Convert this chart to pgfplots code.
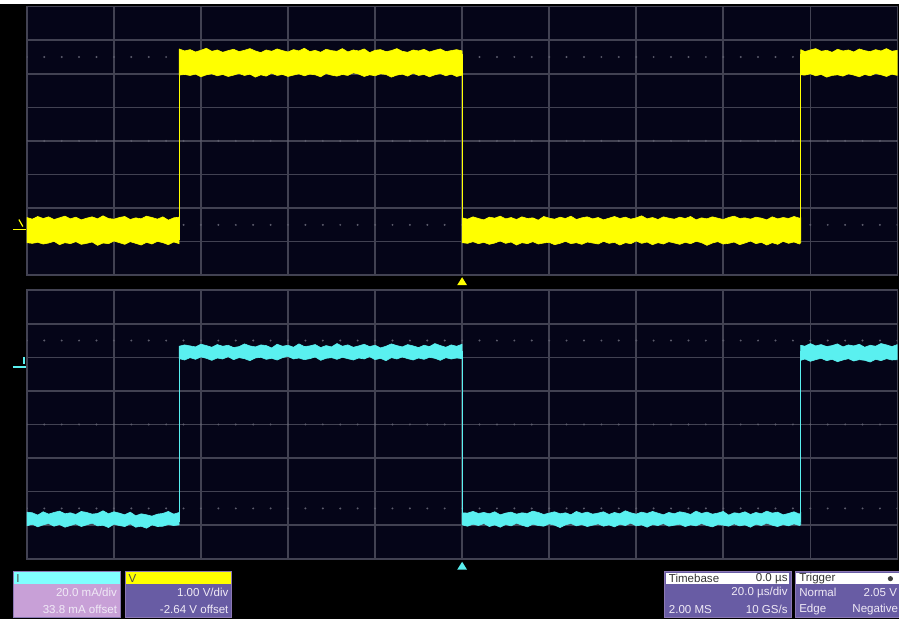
\documentclass[border=0pt]{standalone}
\usepackage{pgfplots}
\pgfplotsset{compat=1.18}
\usepackage{fontspec}
\setmainfont{Liberation Sans}
\definecolor{bgc}{RGB}{5,5,24}
\definecolor{gridc}{RGB}{66,66,82}
\definecolor{dotc}{RGB}{92,92,108}
\definecolor{trY}{RGB}{255,255,0}
\definecolor{trC}{RGB}{90,240,240}
\definecolor{hdrC}{RGB}{128,255,255}
\definecolor{bodyP}{RGB}{200,160,215}
\definecolor{bodyV}{RGB}{104,92,164}
\definecolor{boxB}{RGB}{140,120,180}
\definecolor{txtW}{RGB}{240,234,246}
\newcommand{\fs}{\fontsize{5.8}{6.5}\selectfont}
\pgfplotsset{osc/.style={scale only axis, width=437.5pt, height=135pt,
  xmin=-5, xmax=5, ymin=-4, ymax=4,
  xtick={-5,...,5}, ytick={-4,...,4}, xticklabels={}, yticklabels={},
  tick style={draw=none}, major tick length=0pt,
  grid=major, major grid style={gridc, line width=0.8pt},
  axis line style={gridc, line width=0.8pt},
  axis background/.style={fill=bgc}, anchor=north west}}
\newcommand{\dotrow}[1]{\draw[dotc, line width=1.1pt, line cap=round, dash pattern=on 0pt off 8.75pt] (axis cs:-5,#1) -- (axis cs:5,#1);}
\begin{document}
\begin{tikzpicture}
\fill[black] (0,0) rectangle (452pt,-310.5pt);
\fill[white] (0,0) rectangle (452pt,-1pt);
% ---------------- upper panel (V) ----------------
\begin{axis}[osc, at={(13.5pt,-2.5pt)}]
\dotrow{2.5}\dotrow{-2.5}\dotrow{0}
% low 1
\addplot[fill=trY, draw=trY, line width=0.3pt] coordinates {
(-5,-2.28)(-4.9375,-2.33)(-4.875,-2.25)(-4.8125,-2.31)(-4.75,-2.26)(-4.6875,-2.34)(-4.625,-2.29)(-4.5625,-2.24)(-4.5,-2.32)(-4.4375,-2.27)(-4.375,-2.35)(-4.3125,-2.30)(-4.25,-2.26)(-4.1875,-2.32)(-4.125,-2.23)(-4.0625,-2.31)(-4,-2.33)(-3.9375,-2.28)(-3.875,-2.25)(-3.8125,-2.34)(-3.75,-2.29)(-3.6875,-2.32)(-3.625,-2.24)(-3.5625,-2.28)(-3.5,-2.33)(-3.4375,-2.26)(-3.375,-2.36)(-3.3125,-2.29)(-3.25,-2.27)
(-3.25,-3.06)(-3.3125,-3.01)(-3.375,-3.09)(-3.4375,-3.03)(-3.5,-2.99)(-3.5625,-3.07)(-3.625,-3.02)(-3.6875,-3.10)(-3.75,-3.05)(-3.8125,-3.00)(-3.875,-3.08)(-3.9375,-3.03)(-4,-2.98)(-4.0625,-3.06)(-4.125,-3.04)(-4.1875,-3.11)(-4.25,-3.01)(-4.3125,-3.05)(-4.375,-3.08)(-4.4375,-3.00)(-4.5,-3.06)(-4.5625,-3.03)(-4.625,-3.09)(-4.6875,-2.99)(-4.75,-3.04)(-4.8125,-3.07)(-4.875,-3.02)(-4.9375,-3.05)(-5,-3.03)(-5,-2.28)};
% high 1
\addplot[fill=trY, draw=trY, line width=0.3pt] coordinates {
(-3.25,2.74)(-3.1875,2.68)(-3.125,2.72)(-3.0625,2.65)(-3,2.70)(-2.9375,2.76)(-2.875,2.67)(-2.8125,2.71)(-2.75,2.64)(-2.6875,2.69)(-2.625,2.73)(-2.5625,2.66)(-2.5,2.70)(-2.4375,2.75)(-2.375,2.68)(-2.3125,2.63)(-2.25,2.71)(-2.1875,2.67)(-2.125,2.74)(-2.0625,2.69)(-2,2.65)(-1.9375,2.72)(-1.875,2.68)(-1.8125,2.76)(-1.75,2.66)(-1.6875,2.70)(-1.625,2.64)(-1.5625,2.73)(-1.5,2.69)(-1.4375,2.67)(-1.375,2.75)(-1.3125,2.65)(-1.25,2.71)(-1.1875,2.68)(-1.125,2.74)(-1.0625,2.63)(-1,2.70)(-0.9375,2.72)(-0.875,2.66)(-0.8125,2.69)(-0.75,2.75)(-0.6875,2.67)(-0.625,2.64)(-0.5625,2.71)(-0.5,2.68)(-0.4375,2.73)(-0.375,2.65)(-0.3125,2.70)(-0.25,2.74)(-0.1875,2.66)(-0.125,2.69)(-0.0625,2.72)(0,2.68)
(0,1.96)(-0.0625,1.92)(-0.125,1.99)(-0.1875,1.94)(-0.25,2.01)(-0.3125,1.97)(-0.375,1.91)(-0.4375,1.98)(-0.5,1.95)(-0.5625,2.02)(-0.625,1.93)(-0.6875,1.99)(-0.75,1.96)(-0.8125,1.90)(-0.875,1.98)(-0.9375,2.00)(-1,1.94)(-1.0625,1.97)(-1.125,1.92)(-1.1875,1.99)(-1.25,2.03)(-1.3125,1.95)(-1.375,1.98)(-1.4375,1.93)(-1.5,1.96)(-1.5625,2.01)(-1.625,1.91)(-1.6875,1.97)(-1.75,1.99)(-1.8125,1.94)(-1.875,2.00)(-1.9375,1.96)(-2,1.92)(-2.0625,1.98)(-2.125,1.95)(-2.1875,2.02)(-2.25,1.93)(-2.3125,1.97)(-2.375,1.90)(-2.4375,1.99)(-2.5,1.95)(-2.5625,2.01)(-2.625,1.96)(-2.6875,1.92)(-2.75,1.98)(-2.8125,1.94)(-2.875,2.00)(-2.9375,1.97)(-3,1.91)(-3.0625,1.99)(-3.125,1.95)(-3.1875,1.98)(-3.25,1.96)(-3.25,2.74)};
% low 2
\addplot[fill=trY, draw=trY, line width=0.3pt] coordinates {
(0,-2.29)(0.0625,-2.33)(0.125,-2.26)(0.1875,-2.31)(0.25,-2.35)(0.3125,-2.27)(0.375,-2.30)(0.4375,-2.24)(0.5,-2.32)(0.5625,-2.28)(0.625,-2.34)(0.6875,-2.26)(0.75,-2.31)(0.8125,-2.29)(0.875,-2.36)(0.9375,-2.25)(1,-2.30)(1.0625,-2.33)(1.125,-2.27)(1.1875,-2.31)(1.25,-2.24)(1.3125,-2.34)(1.375,-2.29)(1.4375,-2.26)(1.5,-2.32)(1.5625,-2.28)(1.625,-2.35)(1.6875,-2.30)(1.75,-2.25)(1.8125,-2.31)(1.875,-2.27)(1.9375,-2.33)(2,-2.29)(2.0625,-2.23)(2.125,-2.32)(2.1875,-2.28)(2.25,-2.34)(2.3125,-2.26)(2.375,-2.30)(2.4375,-2.33)(2.5,-2.27)(2.5625,-2.31)(2.625,-2.25)(2.6875,-2.35)(2.75,-2.29)(2.8125,-2.32)(2.875,-2.26)(2.9375,-2.30)(3,-2.34)(3.0625,-2.28)(3.125,-2.24)(3.1875,-2.31)(3.25,-2.29)(3.3125,-2.33)(3.375,-2.27)(3.4375,-2.30)(3.5,-2.35)(3.5625,-2.26)(3.625,-2.32)(3.6875,-2.28)(3.75,-2.31)(3.8125,-2.25)(3.875,-2.30)(3.89,-2.29)
(3.89,-3.03)(3.875,-3.07)(3.8125,-3.01)(3.75,-3.05)(3.6875,-2.99)(3.625,-3.08)(3.5625,-3.03)(3.5,-3.10)(3.4375,-3.02)(3.375,-3.06)(3.3125,-2.98)(3.25,-3.04)(3.1875,-3.09)(3.125,-3.01)(3.0625,-3.05)(3,-3.07)(2.9375,-3.00)(2.875,-3.04)(2.8125,-3.11)(2.75,-3.03)(2.6875,-2.99)(2.625,-3.06)(2.5625,-3.02)(2.5,-3.08)(2.4375,-3.04)(2.375,-3.00)(2.3125,-3.07)(2.25,-3.03)(2.1875,-3.09)(2.125,-3.01)(2.0625,-3.05)(2,-2.98)(1.9375,-3.06)(1.875,-3.03)(1.8125,-3.10)(1.75,-3.02)(1.6875,-3.05)(1.625,-2.99)(1.5625,-3.07)(1.5,-3.04)(1.4375,-3.01)(1.375,-3.08)(1.3125,-3.03)(1.25,-3.06)(1.1875,-2.99)(1.125,-3.05)(1.0625,-3.09)(1,-3.02)(0.9375,-3.04)(0.875,-3.07)(0.8125,-3.00)(0.75,-3.06)(0.6875,-3.03)(0.625,-3.10)(0.5625,-3.01)(0.5,-3.05)(0.4375,-2.98)(0.375,-3.04)(0.3125,-3.08)(0.25,-3.02)(0.1875,-3.06)(0.125,-3.00)(0.0625,-3.05)(0,-3.03)(0,-2.29)};
% high 2
\addplot[fill=trY, draw=trY, line width=0.3pt] coordinates {
(3.89,2.72)(3.9375,2.66)(4,2.71)(4.0625,2.75)(4.125,2.67)(4.1875,2.70)(4.25,2.64)(4.3125,2.73)(4.375,2.68)(4.4375,2.71)(4.5,2.65)(4.5625,2.74)(4.625,2.69)(4.6875,2.66)(4.75,2.72)(4.8125,2.68)(4.875,2.75)(4.9375,2.67)(5,2.70)
(5,1.95)(4.9375,1.99)(4.875,1.92)(4.8125,1.97)(4.75,2.01)(4.6875,1.94)(4.625,1.98)(4.5625,1.91)(4.5,1.96)(4.4375,2.00)(4.375,1.93)(4.3125,1.97)(4.25,1.95)(4.1875,1.90)(4.125,1.98)(4.0625,1.94)(4,2.00)(3.9375,1.96)(3.89,1.97)(3.89,2.72)};
% edges
\addplot[trY, line width=0.6pt] coordinates {(-3.25,-2.95)(-3.25,2.6)};
\addplot[trY, line width=0.6pt] coordinates {(0,2.6)(0,-2.95)};
\addplot[trY, line width=0.6pt] coordinates {(3.89,-2.95)(3.89,2.6)};
\end{axis}
% ---------------- lower panel (I) ----------------
\begin{axis}[osc, at={(13.5pt,-145pt)}]
\dotrow{2.5}\dotrow{-2.5}\dotrow{0}
% low 1
\addplot[fill=trC, draw=trC, line width=0.3pt] coordinates {
(-5,-2.61)(-4.9375,-2.63)(-4.875,-2.70)(-4.8125,-2.60)(-4.75,-2.67)(-4.6875,-2.62)(-4.625,-2.58)(-4.5625,-2.66)(-4.5,-2.63)(-4.4375,-2.68)(-4.375,-2.59)(-4.3125,-2.62)(-4.25,-2.67)(-4.1875,-2.65)(-4.125,-2.57)(-4.0625,-2.66)(-4,-2.60)(-3.9375,-2.64)(-3.875,-2.69)(-3.8125,-2.61)(-3.75,-2.72)(-3.6875,-2.66)(-3.625,-2.69)(-3.5625,-2.73)(-3.5,-2.67)(-3.4375,-2.65)(-3.375,-2.59)(-3.3125,-2.67)(-3.25,-2.62)
(-3.25,-2.99)(-3.3125,-3.01)(-3.375,-2.98)(-3.4375,-3.03)(-3.5,-3.04)(-3.5625,-2.99)(-3.625,-3.09)(-3.6875,-3.03)(-3.75,-3.06)(-3.8125,-2.96)(-3.875,-3.04)(-3.9375,-3.01)(-4,-2.97)(-4.0625,-3.07)(-4.125,-3.00)(-4.1875,-3.02)(-4.25,-2.94)(-4.3125,-2.99)(-4.375,-3.04)(-4.4375,-2.96)(-4.5,-3.01)(-4.5625,-3.06)(-4.625,-2.98)(-4.6875,-3.03)(-4.75,-2.95)(-4.8125,-2.99)(-4.875,-3.05)(-4.9375,-2.97)(-5,-3.02)(-5,-2.61)};
% high 1
\addplot[fill=trC, draw=trC, line width=0.3pt] coordinates {
(-3.25,2.33)(-3.1875,2.37)(-3.125,2.34)(-3.0625,2.31)(-3,2.39)(-2.9375,2.35)(-2.875,2.30)(-2.8125,2.38)(-2.75,2.33)(-2.6875,2.36)(-2.625,2.29)(-2.5625,2.32)(-2.5,2.40)(-2.4375,2.34)(-2.375,2.31)(-2.3125,2.37)(-2.25,2.35)(-2.1875,2.28)(-2.125,2.39)(-2.0625,2.33)(-2,2.36)(-1.9375,2.30)(-1.875,2.40)(-1.8125,2.32)(-1.75,2.34)(-1.6875,2.38)(-1.625,2.29)(-1.5625,2.35)(-1.5,2.31)(-1.4375,2.41)(-1.375,2.33)(-1.3125,2.37)(-1.25,2.30)(-1.1875,2.34)(-1.125,2.39)(-1.0625,2.32)(-1,2.36)(-0.9375,2.28)(-0.875,2.33)(-0.8125,2.40)(-0.75,2.35)(-0.6875,2.31)(-0.625,2.38)(-0.5625,2.34)(-0.5,2.29)(-0.4375,2.36)(-0.375,2.32)(-0.3125,2.41)(-0.25,2.35)(-0.1875,2.30)(-0.125,2.37)(-0.0625,2.33)(0,2.39)
(0,1.96)(-0.0625,1.98)(-0.125,1.95)(-0.1875,1.99)(-0.25,1.91)(-0.3125,1.97)(-0.375,2.00)(-0.4375,1.94)(-0.5,1.98)(-0.5625,1.92)(-0.625,1.96)(-0.6875,2.01)(-0.75,1.95)(-0.8125,1.99)(-0.875,1.90)(-0.9375,1.97)(-1,1.93)(-1.0625,2.02)(-1.125,1.95)(-1.1875,1.98)(-1.25,1.92)(-1.3125,1.96)(-1.375,2.00)(-1.4375,1.94)(-1.5,1.99)(-1.5625,1.97)(-1.625,1.91)(-1.6875,2.01)(-1.75,1.96)(-1.8125,1.93)(-1.875,1.98)(-1.9375,1.95)(-2,2.03)(-2.0625,1.99)(-2.125,1.92)(-2.1875,1.97)(-2.25,1.94)(-2.3125,2.00)(-2.375,1.98)(-2.4375,1.90)(-2.5,1.96)(-2.5625,1.99)(-2.625,1.93)(-2.6875,2.02)(-2.75,1.95)(-2.8125,1.98)(-2.875,1.91)(-2.9375,1.97)(-3,2.01)(-3.0625,1.94)(-3.125,1.99)(-3.1875,1.92)(-3.25,1.96)(-3.25,2.33)};
% low 2
\addplot[fill=trC, draw=trC, line width=0.3pt] coordinates {
(0,-2.63)(0.0625,-2.64)(0.125,-2.59)(0.1875,-2.65)(0.25,-2.62)(0.3125,-2.66)(0.375,-2.60)(0.4375,-2.69)(0.5,-2.64)(0.5625,-2.61)(0.625,-2.67)(0.6875,-2.63)(0.75,-2.65)(0.8125,-2.58)(0.875,-2.62)(0.9375,-2.68)(1,-2.64)(1.0625,-2.60)(1.125,-2.66)(1.1875,-2.63)(1.25,-2.69)(1.3125,-2.59)(1.375,-2.65)(1.4375,-2.61)(1.5,-2.67)(1.5625,-2.64)(1.625,-2.60)(1.6875,-2.68)(1.75,-2.62)(1.8125,-2.66)(1.875,-2.57)(1.9375,-2.63)(2,-2.67)(2.0625,-2.61)(2.125,-2.65)(2.1875,-2.59)(2.25,-2.64)(2.3125,-2.69)(2.375,-2.62)(2.4375,-2.66)(2.5,-2.60)(2.5625,-2.63)(2.625,-2.68)(2.6875,-2.58)(2.75,-2.65)(2.8125,-2.61)(2.875,-2.67)(2.9375,-2.64)(3,-2.59)(3.0625,-2.70)(3.125,-2.63)(3.1875,-2.65)(3.25,-2.60)(3.3125,-2.68)(3.375,-2.62)(3.4375,-2.66)(3.5,-2.58)(3.5625,-2.64)(3.625,-2.61)(3.6875,-2.69)(3.75,-2.65)(3.8125,-2.60)(3.875,-2.67)(3.89,-2.63)
(3.89,-2.99)(3.875,-3.01)(3.8125,-2.96)(3.75,-3.02)(3.6875,-2.98)(3.625,-3.04)(3.5625,-3.00)(3.5,-2.94)(3.4375,-3.01)(3.375,-2.97)(3.3125,-3.06)(3.25,-2.99)(3.1875,-3.02)(3.125,-2.96)(3.0625,-3.03)(3,-3.00)(2.9375,-2.98)(2.875,-3.05)(2.8125,-3.01)(2.75,-2.95)(2.6875,-3.02)(2.625,-2.99)(2.5625,-3.04)(2.5,-2.97)(2.4375,-3.00)(2.375,-3.03)(2.3125,-2.95)(2.25,-3.01)(2.1875,-2.98)(2.125,-3.06)(2.0625,-2.99)(2,-3.02)(1.9375,-2.94)(1.875,-3.01)(1.8125,-2.97)(1.75,-3.05)(1.6875,-2.99)(1.625,-3.03)(1.5625,-2.96)(1.5,-3.00)(1.4375,-3.04)(1.375,-2.98)(1.3125,-3.02)(1.25,-2.95)(1.1875,-2.99)(1.125,-3.07)(1.0625,-3.00)(1,-2.96)(0.9375,-3.03)(0.875,-3.01)(0.8125,-2.97)(0.75,-3.05)(0.6875,-3.00)(0.625,-2.94)(0.5625,-3.02)(0.5,-2.98)(0.4375,-3.06)(0.375,-2.99)(0.3125,-3.04)(0.25,-2.95)(0.1875,-3.01)(0.125,-2.97)(0.0625,-3.03)(0,-2.99)(0,-2.63)};
% high 2
\addplot[fill=trC, draw=trC, line width=0.3pt] coordinates {
(3.89,2.36)(3.9375,2.33)(4,2.41)(4.0625,2.34)(4.125,2.38)(4.1875,2.32)(4.25,2.35)(4.3125,2.40)(4.375,2.31)(4.4375,2.37)(4.5,2.34)(4.5625,2.39)(4.625,2.30)(4.6875,2.36)(4.75,2.33)(4.8125,2.41)(4.875,2.37)(4.9375,2.32)(5,2.38)
(5,1.93)(4.9375,1.92)(4.875,1.96)(4.8125,1.90)(4.75,1.94)(4.6875,1.86)(4.625,1.91)(4.5625,1.93)(4.5,1.89)(4.4375,1.96)(4.375,1.92)(4.3125,1.87)(4.25,1.94)(4.1875,1.90)(4.125,1.97)(4.0625,1.93)(4,1.88)(3.9375,1.95)(3.89,1.91)(3.89,2.36)};
% edges
\addplot[trC, line width=0.6pt] coordinates {(-3.25,-2.9)(-3.25,2.2)};
\addplot[trC, line width=0.6pt] coordinates {(0,2.2)(0,-2.9)};
\addplot[trC, line width=0.6pt] coordinates {(3.89,-2.9)(3.89,2.2)};
\end{axis}
% ---------------- decorations in pixel units ----------------
\begin{scope}[x=0.5pt, y=-0.5pt]
% trigger position markers
\fill[trY] (459.5,285) -- (469.5,285) -- (464.5,277) -- cycle;
\fill[trC] (459.5,571) -- (469.5,571) -- (464.5,563) -- cycle;
% channel ground markers
\draw[trY, line width=0.7pt] (13,229) -- (26,229);
\draw[trY, line width=0.6pt] (19,219) -- (23,226);
\draw[trC, line width=0.9pt] (13,367) -- (26,367);
\draw[trC, line width=0.9pt] (24,357) -- (24,364);
% --- I box
\fill[bodyP] (13,585) rectangle (121,619);
\fill[hdrC] (13,573) rectangle (121,585);
\draw[boxB, line width=0.4pt] (13,573) rectangle (121,619);
\node[anchor=west, inner sep=0pt, font=\fs, text=black!70] at (16,579.5) {I};
\node[anchor=east, inner sep=0pt, font=\fs, text=txtW] at (118,594) {20.0 mA/div};
\node[anchor=east, inner sep=0pt, font=\fs, text=txtW] at (118,611) {33.8 mA offset};
% --- V box
\fill[bodyV] (126,585) rectangle (233,619);
\fill[trY] (126,573) rectangle (233,585);
\draw[boxB, line width=0.4pt] (126,573) rectangle (233,619);
\node[anchor=west, inner sep=0pt, font=\fs, text=black!70] at (129,579.5) {V};
\node[anchor=east, inner sep=0pt, font=\fs, text=txtW] at (230,594) {1.00 V/div};
\node[anchor=east, inner sep=0pt, font=\fs, text=txtW] at (230,611) {-2.64 V offset};
% --- Timebase box
\fill[bodyV] (668,573) rectangle (795,619);
\fill[white] (669.5,574.5) rectangle (793.5,585);
\draw[boxB, line width=0.4pt] (668,573) rectangle (795,619);
\node[anchor=west, inner sep=0pt, font=\fs, text=black!80] at (672,580) {Timebase};
\node[anchor=east, inner sep=0pt, font=\fs, text=black!80] at (792,580) {0.0 µs};
\node[anchor=east, inner sep=0pt, font=\fs, text=txtW] at (792,594) {20.0 µs/div};
\node[anchor=west, inner sep=0pt, font=\fs, text=txtW] at (672,611) {2.00 MS};
\node[anchor=east, inner sep=0pt, font=\fs, text=txtW] at (792,611) {10 GS/s};
% --- Trigger box
\fill[bodyV] (799,573) rectangle (904,619);
\fill[white] (800.5,574.5) rectangle (904,585);
\draw[boxB, line width=0.4pt] (904,573) -- (799,573) -- (799,619) -- (904,619);
\node[anchor=west, inner sep=0pt, font=\fs, text=black!80] at (803,580) {Trigger};
\fill[black!75] (895,580) circle (2.6);
\node[anchor=west, inner sep=0pt, font=\fs, text=txtW] at (803,594) {Normal};
\node[anchor=east, inner sep=0pt, font=\fs, text=txtW] at (902,594) {2.05 V};
\node[anchor=west, inner sep=0pt, font=\fs, text=txtW] at (803,611) {Edge};
\node[anchor=east, inner sep=0pt, font=\fs, text=txtW] at (903,611) {Negative};
\end{scope}
\end{tikzpicture}
\end{document}
